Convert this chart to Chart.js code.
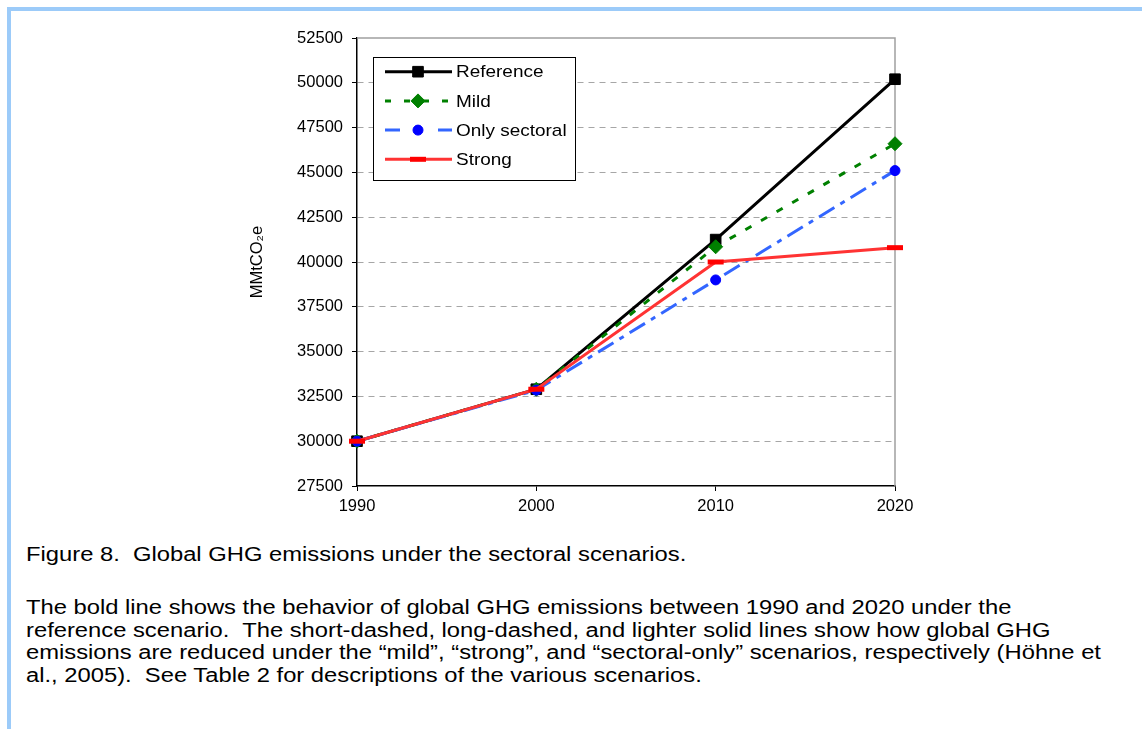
<!DOCTYPE html>
<html><head><meta charset="utf-8">
<script src="https://cdn.jsdelivr.net/npm/chart.js@4.4.1/dist/chart.umd.min.js"></script>
<style>
html,body{margin:0;padding:0;background:#fff;width:1142px;height:729px;overflow:hidden;font-family:"Liberation Sans",Arial,sans-serif;}
#frame{position:absolute;left:7px;top:7px;width:1300px;height:900px;border-top:4px solid #9ccbf9;border-left:4px solid #9ccbf9;}
#wrap{position:absolute;left:0;top:0;width:1142px;height:525px;}
.cap{position:absolute;left:26px;font-size:20px;line-height:22.7px;color:#000;white-space:nowrap;transform:scaleX(1.188);transform-origin:0 0;}
</style></head><body>
<div id="frame"></div>
<div id="wrap"><canvas id="c" width="1142" height="525" style="width:1142px;height:525px"></canvas></div>
<div class="cap" style="top:543px">Figure 8.&nbsp; Global GHG emissions under the sectoral scenarios.</div>
<div class="cap" style="top:596px">The bold line shows the behavior of global GHG emissions between 1990 and 2020 under the<br>reference scenario.&nbsp; The short-dashed, long-dashed, and lighter solid lines show how global GHG<br>emissions are reduced under the “mild”, “strong”, and “sectoral-only” scenarios, respectively (Höhne et<br>al., 2005).&nbsp; See Table 2 for descriptions of the various scenarios.</div>
<script>
const years = ['1990', '2000', '2010', '2020'];
const seriesNames = ['Reference', 'Mild', 'Only sectoral', 'Strong'];
const referenceValues = [30000, 32900, 41250, 50200];
const mildValues = [30000, 32900, 40850, 46600];
const sectoralValues = [30000, 32850, 39000, 45100];
const strongValues = [30000, 32900, 40000, 40800];
const yTickValues = [27500, 30000, 32500, 35000, 37500, 40000, 42500, 45000, 47500, 50000, 52500];
const yTitle = 'MMtCO₂e';

const FONT = '"Liberation Sans", Arial, sans-serif';

function drawMarker(ctx, ds, x, y) {
  ctx.save();
  ctx.fillStyle = ds.pointBackgroundColor;
  ctx.strokeStyle = ds.pointBorderColor;
  ctx.lineWidth = ds.pointBorderWidth;
  ctx.setLineDash([]);
  const r = ds.pointRadius;
  ctx.beginPath();
  if (ds.pointStyle === 'rect') {
    const s = r * Math.SQRT1_2;
    ctx.rect(x - s, y - s, 2 * s, 2 * s); ctx.fill(); ctx.stroke();
  } else if (ds.pointStyle === 'rectRot') {
    ctx.moveTo(x, y - r); ctx.lineTo(x + r, y); ctx.lineTo(x, y + r); ctx.lineTo(x - r, y); ctx.closePath(); ctx.fill(); ctx.stroke();
  } else if (ds.pointStyle === 'circle') {
    ctx.arc(x, y, r, 0, Math.PI * 2); ctx.fill(); ctx.stroke();
  } else if (ds.pointStyle === 'line') {
    ctx.moveTo(x - r, y); ctx.lineTo(x + r, y); ctx.stroke();
  }
  ctx.restore();
}

const frameAndLegend = {
  id: 'frameAndLegend',
  beforeDatasetsDraw(chart) {
    const {ctx, chartArea: a} = chart;
    ctx.save();
    ctx.strokeStyle = '#a0a0a0';
    ctx.lineWidth = 1.5;
    ctx.beginPath();
    ctx.moveTo(a.left, a.top);
    ctx.lineTo(a.right, a.top);
    ctx.lineTo(a.right, a.bottom);
    ctx.stroke();
    ctx.restore();
  },
  afterDraw(chart) {
    const {ctx, chartArea: a} = chart;
    const x0 = Math.round(a.left + 16), y0 = Math.round(a.top + 19), w = 202, h = 123;
    ctx.save();
    ctx.fillStyle = '#fff';
    ctx.fillRect(x0, y0, w, h);
    ctx.strokeStyle = '#000';
    ctx.lineWidth = 1;
    ctx.strokeRect(x0 + 0.5, y0 + 0.5, w, h);
    chart.data.datasets.forEach((ds, i) => {
      const cy = y0 + 14.7 + i * 29.2;
      ctx.save();
      ctx.strokeStyle = ds.borderColor;
      ctx.lineWidth = ds.borderWidth;
      ctx.setLineDash(ds.legendDash || []);
      ctx.beginPath();
      ctx.moveTo(x0 + 12, cy);
      ctx.lineTo(x0 + 79, cy);
      ctx.stroke();
      ctx.restore();
      drawMarker(ctx, ds, x0 + 45, cy);
      ctx.save();
      ctx.translate(x0 + 83, cy + 1);
      ctx.scale(1.115, 1);
      ctx.fillStyle = '#000';
      ctx.font = '17px ' + FONT;
      ctx.textBaseline = 'middle';
      ctx.textAlign = 'left';
      ctx.fillText(ds.label, 0, 0);
      ctx.restore();
    });
    ctx.restore();
  }
};

const datasets = [
  {label: seriesNames[0], data: referenceValues, borderColor: '#000000', borderWidth: 3,
   pointStyle: 'rect', pointRadius: 7.5, pointBorderWidth: 1, pointBackgroundColor: '#000000', pointBorderColor: '#000000',
   legendDash: [], order: 4},
  {label: seriesNames[1], data: mildValues, borderColor: '#008000', borderWidth: 3, borderDash: [7, 11],
   pointStyle: 'rectRot', pointRadius: 7, pointBorderWidth: 1, pointBackgroundColor: '#008000', pointBorderColor: '#008000',
   legendDash: [6, 13], order: 3},
  {label: seriesNames[2], data: sectoralValues, borderColor: '#3366ff', borderWidth: 3, borderDash: [18, 7, 5, 7],
   pointStyle: 'circle', pointRadius: 5, pointBorderWidth: 1, pointBackgroundColor: '#0000ff', pointBorderColor: '#0000ff',
   legendDash: [15, 38], order: 2},
  {label: seriesNames[3], data: strongValues, borderColor: '#ff3333', borderWidth: 3,
   pointStyle: 'line', pointRadius: 8, pointBorderWidth: 5, pointBackgroundColor: '#ff0000', pointBorderColor: '#ff0000',
   legendDash: [], order: 1}
];
datasets.forEach(d => { d.tension = 0; d.fill = false; d.clip = false; d.pointHoverRadius = d.pointRadius; });

new Chart(document.getElementById('c'), {
  type: 'line',
  data: {labels: years, datasets: datasets},
  plugins: [frameAndLegend],
  options: {
    responsive: false,
    animation: false,
    events: [],
    layout: {padding: {left: 240, top: 38, right: 247, bottom: 0}},
    plugins: {legend: {display: false}, tooltip: {enabled: false}, title: {display: false}},
    scales: {
      x: {
        type: 'category',
        offset: false,
        grid: {display: true, drawOnChartArea: false, drawTicks: true, tickLength: 5, tickColor: '#000', tickWidth: 1},
        border: {display: true, color: '#000', width: 1.5},
        ticks: {color: '#000', font: {family: FONT, size: 16.5}, padding: 6, maxRotation: 0, autoSkip: false},
        afterFit: s => { s.height = 39; }
      },
      y: {
        min: yTickValues[0],
        max: yTickValues[yTickValues.length - 1],
        afterBuildTicks: s => { s.ticks = yTickValues.map(v => ({value: v})); },
        ticks: {color: '#000', font: {family: FONT, size: 16.5}, padding: 9, callback: v => String(v)},
        grid: {
          color: c => (c.tick && (c.tick.value === yTickValues[0] || c.tick.value === yTickValues[yTickValues.length - 1])) ? 'rgba(0,0,0,0)' : '#a6a6a6',
          lineWidth: 1, drawTicks: true, tickLength: 5, tickColor: '#000', tickWidth: 1
        },
        border: {display: true, color: '#000', width: 1.5, dash: [6, 5]},
        title: {display: true, text: yTitle, color: '#000', font: {family: FONT, size: 16.5}, padding: {top: 8, bottom: 0}},
        afterFit: s => { s.width = 117; }
      }
    }
  }
});
</script>
</body></html>
